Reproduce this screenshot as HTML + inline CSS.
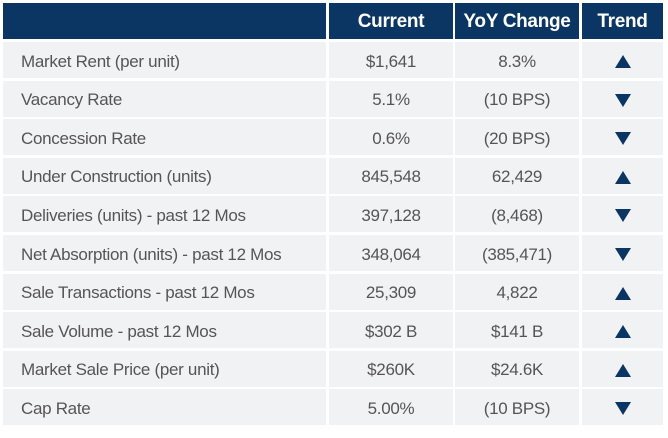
<!DOCTYPE html>
<html><head><style>
body{margin:0;background:#fff;width:668px;height:438px;overflow:hidden;font-family:"Liberation Sans",sans-serif}
.c{position:absolute;box-sizing:border-box;display:flex;align-items:center;font-size:17px;color:#555;letter-spacing:-0.3px;padding-top:3px}
.h{background:#0b3562;color:#fff;font-weight:bold;font-size:19px;justify-content:center;padding-top:2px}
.r{background:#f1f2f4}
.l{padding-left:18px}
.m{justify-content:center}
.up,.dn{width:0;height:0;border-left:8px solid transparent;border-right:8px solid transparent}
.up{border-bottom:13px solid #0b3562}
.dn{border-top:13px solid #0b3562}
</style></head><body>
<div id="t"></div>
<script>
var cols=[[3,323],[329,124],[455,124],[582,81]];
var rows=[["Market Rent (per unit)","$1,641","8.3%",1],["Vacancy Rate","5.1%","(10 BPS)",0],["Concession Rate","0.6%","(20 BPS)",0],["Under Construction (units)","845,548","62,429",1],["Deliveries (units) - past 12 Mos","397,128","(8,468)",0],["Net Absorption (units) - past 12 Mos","348,064","(385,471)",0],["Sale Transactions - past 12 Mos","25,309","4,822",1],["Sale Volume - past 12 Mos","$302 B","$141 B",1],["Market Sale Price (per unit)","$260K","$24.6K",1],["Cap Rate","5.00%","(10 BPS)",0]];
var h="";var hd=["","Current","YoY Change","Trend"];
for(var j=0;j<4;j++)h+='<div class="c h" style="left:'+cols[j][0]+'px;top:3px;width:'+cols[j][1]+'px;height:36px">'+hd[j]+'</div>';
for(var i=0;i<10;i++){var y=42+i*38.6;
for(var j=0;j<4;j++){var txt=j<3?rows[i][j]:'<div class="'+(rows[i][3]?'up':'dn')+'"></div>';
h+='<div class="c r '+(j==0?'l':'m')+'" style="left:'+cols[j][0]+'px;top:'+y+'px;width:'+cols[j][1]+'px;height:36px">'+txt+'</div>';}}
document.getElementById("t").innerHTML=h;
</script>
</body></html>
